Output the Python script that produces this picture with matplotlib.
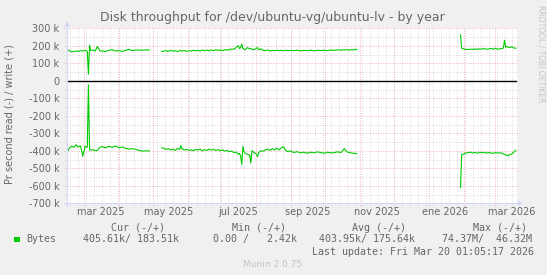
import numpy as np
import pandas as pd
import matplotlib
matplotlib.use("Agg")
import matplotlib.pyplot as plt
import matplotlib.dates as mdates
from matplotlib.transforms import Affine2D
from matplotlib.patches import Polygon, Rectangle

# ---- data: throughput in k bytes/s, x = days after the left edge of the graph ----
START = pd.Timestamp("2025-02-14 12:00")
END = pd.Timestamp("2026-03-20 14:00")

seg1_days = [0, 2, 4, 6, 8, 10, 12, 14, 16, 18, 19, 20, 21, 23, 25, 27, 29, 31,
             34, 37, 40, 43, 46, 49, 52, 55, 58, 61, 64, 67, 70, 73]
seg1_write = [180, 172, 166, 167, 170, 168, 172, 170, 174, 168, 38, 205, 172, 176, 170, 196, 172, 170,
              168, 174, 178, 170, 172, 168, 174, 180, 172, 176, 176, 175, 176, 176]
seg1_read = [411, 385, 374, 380, 366, 378, 372, 431, 374, 380, 23, 393, 396, 393, 400, 398, 380, 376,
             384, 374, 380, 372, 383, 378, 386, 390, 388, 392, 398, 402, 400, 401]

seg2_days = [84, 86, 88, 90, 92, 94, 96, 98, 100, 101,
             102, 104, 106, 108, 110, 112, 114, 116, 118, 120,
             122, 124, 126, 128, 130, 132, 134, 136, 138, 140,
             142, 144, 146, 148, 150, 152, 153, 154, 155, 156,
             157, 158, 160, 162, 163, 164, 166, 168, 169, 170,
             172, 174, 176, 178, 180, 182, 184, 186, 188, 190,
             192, 194, 196, 198, 201, 204, 207, 210, 213, 216,
             219, 222, 225, 228, 231, 234, 237, 240, 243, 245,
             246, 248, 250, 252, 254, 257]
seg2_write = [167, 170, 172, 168, 174, 170, 172, 166, 174, 172,
              170, 173, 168, 172, 170, 175, 171, 174, 170, 176,
              172, 175, 171, 176, 172, 178, 174, 176, 172, 178,
              176, 178, 182, 180, 190, 201, 184, 190, 210, 186,
              180, 178, 190, 182, 184, 180, 178, 186, 190, 178,
              182, 175, 172, 176, 170, 174, 172, 175, 172, 174,
              171, 175, 172, 174, 172, 175, 171, 174, 172, 175,
              171, 174, 173, 175, 172, 176, 174, 177, 175, 178,
              176, 178, 175, 178, 177, 180]
seg2_read = [383, 386, 392, 388, 395, 390, 398, 386, 392, 370,
             388, 395, 392, 398, 394, 400, 392, 396, 390, 400,
             394, 398, 390, 396, 392, 398, 393, 400, 395, 402,
             398, 405, 402, 410, 408, 420, 415, 430, 478, 374,
             405, 415, 420, 425, 469, 400, 410, 420, 434, 410,
             400, 402, 395, 390, 398, 388, 395, 385, 395, 383,
             377, 398, 405, 400, 410, 405, 412, 408, 414, 408,
             412, 406, 410, 414, 408, 412, 410, 406, 410, 395,
             387, 405, 410, 412, 414, 417]

seg3_days = [349, 350, 352, 354, 356, 358, 360, 362, 364, 366, 368, 370, 372, 374,
             376, 378, 380, 382, 384, 386, 387, 388, 389, 390, 392, 394, 396, 398]
seg3_write = [262, 186, 182, 180, 178, 181, 179, 182, 180, 183, 181, 184, 180, 182,
              185, 181, 186, 180, 184, 184, 188, 232, 192, 196, 190, 194, 188, 186]
seg3_read = [611, 421, 418, 412, 410, 408, 412, 410, 414, 408, 411, 409, 413, 410,
             412, 415, 410, 413, 411, 414, 418, 420, 424, 427, 424, 420, 410, 397]

y_ticks = [300, 200, 100, 0, -100, -200, -300, -400, -500, -600, -700]
y_tick_labels = ["300 k", "200 k", "100 k", "0", "-100 k", "-200 k", "-300 k",
                 "-400 k", "-500 k", "-600 k", "-700 k"]
x_label_dates = ["2025-03-16", "2025-05-16", "2025-07-16", "2025-09-16",
                 "2025-11-16", "2026-01-16", "2026-03-16"]
x_labels = ["mar 2025", "may 2025", "jul 2025", "sep 2025", "nov 2025", "ene 2026", "mar 2026"]

legend_heads = ["Cur (-/+)", "Min (-/+)", "Avg (-/+)", "Max (-/+)"]
legend_vals = ["405.61k/ 183.51k", "  0.00 /   2.42k", "403.95k/ 175.64k", " 74.37M/  46.32M"]

# ---- colours (munin defaults) ----
BACK = "#f0f0f0"
FONT = "#666666"
AXIS = "#cfd6f8"
GRID = "#dadada"
MGRID = "#eeb4b4"
GREEN = "#00cc00"

W, H = 547, 275
fig = plt.figure(figsize=(W / 100, H / 100), dpi=100, facecolor=BACK)
PX = Affine2D().scale(1 / W, -1 / H).translate(0, 1) + fig.transFigure  # pixel coords, y down

ax = fig.add_axes([67 / W, 1 - 203.3 / H, 450 / W, 175 / H])
ax.set_facecolor("white")
for s in ax.spines.values():
    s.set_visible(False)

x0 = mdates.date2num(START)
ax.set_xlim(x0, mdates.date2num(END))
ax.set_ylim(-700, 300)

xa = ax.get_xaxis_transform()
ya = ax.get_yaxis_transform()
dots = (0, (1, 1.5))

# grid: weekly minor, monthly major, 50k minor, 100k major
for d in pd.date_range(START, END, freq="W-MON"):
    ax.plot([mdates.date2num(d)] * 2, [-0.014, 1], transform=xa, color=GRID, lw=0.7,
            ls=dots, clip_on=False, zorder=1)
for v in np.arange(-650, 300, 100):
    ax.plot([-0.007, 1.003], [v, v], transform=ya, color=GRID, lw=0.7, ls=dots,
            clip_on=False, zorder=1)
for d in pd.date_range(START, END, freq="MS"):
    ax.plot([mdates.date2num(d)] * 2, [-0.014, 1], transform=xa, color=MGRID, lw=0.7,
            ls=dots, clip_on=False, zorder=2)
for v in y_ticks:
    ax.plot([-0.007, 1.003], [v, v], transform=ya, color=MGRID, lw=0.7, ls=dots,
            clip_on=False, zorder=2)

# data
for days, wr, rd in [(seg1_days, seg1_write, seg1_read),
                     (seg2_days, seg2_write, seg2_read),
                     (seg3_days, seg3_write, seg3_read)]:
    xs = x0 + np.array(days)
    ax.plot(xs, wr, color=GREEN, lw=0.8, zorder=4)
    ax.plot(xs, -np.array(rd), color=GREEN, lw=0.8, zorder=4)

ax.axhline(0, color="black", lw=1.0, zorder=5)

# axes with arrows
fig.add_artist(plt.Line2D([67, 67], [205.5, 24], transform=PX, color=AXIS, lw=0.8))
fig.add_artist(plt.Line2D([64.5, 519], [203.3, 203.3], transform=PX, color=AXIS, lw=0.8))
fig.add_artist(Polygon([(64.5, 26.5), (69.5, 26.5), (67, 21.5)], closed=True,
                       transform=PX, color=AXIS, lw=0))
fig.add_artist(Polygon([(518, 200.8), (518, 205.8), (523, 203.3)], closed=True,
                       transform=PX, color=AXIS, lw=0))

# ticks
ax.set_yticks(y_ticks, y_tick_labels)
ax.set_xticks([mdates.date2num(pd.Timestamp(d)) for d in x_label_dates], x_labels)
ax.tick_params(axis="y", length=0, pad=5.5, labelsize=7, labelcolor=FONT)
ax.tick_params(axis="x", length=0, pad=3, labelsize=7, labelcolor=FONT)

# texts
fig.text(272.5, 17.5, "Disk throughput for /dev/ubuntu-vg/ubuntu-lv - by year", transform=PX,
         ha="center", va="center", fontsize=9, color=FONT)
fig.text(10, 114, "Pr second read (-) / write (+)", transform=PX, rotation=90,
         ha="center", va="center", fontsize=7, color=FONT)
fig.text(541, 5, "RRDTOOL / TOBI OETIKER", transform=PX, rotation=270,
         ha="center", va="top", fontsize=5.5, color="#c4c4c4")

mono = dict(family="DejaVu Sans Mono", fontsize=7.2, color=FONT, va="center", transform=PX)
for x, s in zip([111, 232, 352.3, 473.3], legend_heads):
    fig.text(x, 227.7, s, **mono)
fig.add_artist(Rectangle((14, 236.5), 5.5, 5.5, transform=PX, color=GREEN, lw=0))
fig.text(26.7, 239.3, "Bytes", **mono)
for x, s in zip([83, 200.7, 318.7, 436.3], legend_vals):
    fig.text(x, 239.3, s, **mono)
fig.text(533.5, 251.7, "Last update: Fri Mar 20 01:05:17 2026", ha="right", **mono)
fig.text(272.5, 264.3, "Munin 2.0.75", transform=PX, ha="center", va="center",
         fontsize=6.5, color="#c4c4c4")

fig.savefig("out.png", dpi=100, facecolor=BACK)
